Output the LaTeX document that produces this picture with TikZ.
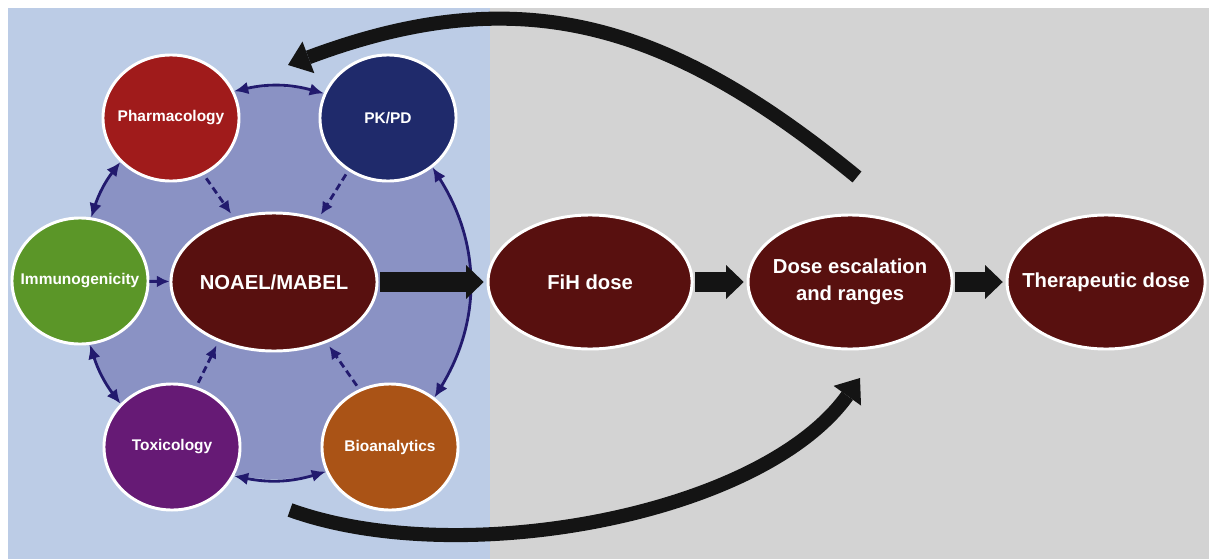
\documentclass[tikz,border=0pt]{standalone}
\usepackage{fontspec}
\setmainfont{Liberation Sans}
\usepackage{tikz}
\usetikzlibrary{shapes.geometric, arrows.meta, positioning}
\definecolor{bgblue}{RGB}{188,204,230}
\definecolor{bggray}{RGB}{211,211,211}
\definecolor{discblue}{RGB}{138,146,196}
\definecolor{linknavy}{RGB}{34,26,110}
\definecolor{pharmred}{RGB}{160,27,27}
\definecolor{pkpdblue}{RGB}{31,42,107}
\definecolor{immgreen}{RGB}{91,150,40}
\definecolor{toxpurple}{RGB}{102,26,117}
\definecolor{bioorange}{RGB}{170,83,22}
\definecolor{dosemaroon}{RGB}{88,16,15}
\tikzset{
  bubble/.style={
    ellipse, draw=white, line width=2.1pt,
    inner xsep=-0.8cm, inner ysep=0pt,
    minimum width=3.4cm, minimum height=3.15cm,
    text=white, font=\fontsize{11}{13}\selectfont\bfseries
  },
  dosestep/.style={
    ellipse, draw=white, fill=dosemaroon, line width=2.1pt,
    inner xsep=-1cm, inner ysep=0pt,
    minimum width=5.1cm, minimum height=3.35cm,
    text=white, align=center, font=\fontsize{14.4}{19.5}\selectfont\bfseries
  },
  link/.style={draw=linknavy, line width=2pt,
    {Latex[length=10pt,width=9pt]}-{Latex[length=10pt,width=9pt]}},
  feed/.style={draw=linknavy, line width=2pt, -{Latex[length=9pt,width=8.5pt]}},
  dashfeed/.style={feed, dash pattern=on 5pt off 3pt, shorten <=3pt, shorten >=3pt},
  blockarrow/.style={draw=black!92, line width=14pt,
    -{Triangle[length=12.5pt,width=24pt,line width=0pt]}, shorten <=1pt, shorten >=2pt},
  loopback/.style={draw=black!92, line width=10pt,
    -{Triangle[length=15.5pt,width=24pt,line width=0pt]}},
}

\begin{document}
\begin{tikzpicture}[x=0.025cm, y=-0.025cm]
  \useasboundingbox (0,0) rectangle (1209,559);
  \fill [bgblue]   (8,8)   rectangle (490,559);
  \fill [bggray]   (490,8) rectangle (1209,559);
  \fill [discblue] (275,283) circle [radius=4.9cm];

  \node (pharm)  [bubble, fill=pharmred]  at (171,118) {Pharmacology};
  \node (pkpd)   [bubble, fill=pkpdblue]  at (388,118) {PK/PD};
  \node (immuno) [bubble, fill=immgreen]  at (80,281)  {Immunogenicity};
  \node (tox)    [bubble, fill=toxpurple] at (172,447) {Toxicology};
  \node (bio)    [bubble, fill=bioorange] at (390,447) {Bioanalytics};
  \node (noael)  [dosestep, minimum width=5.15cm, minimum height=3.45cm] at (274,282) {NOAEL/MABEL};
  \node (fih)    [dosestep, right=2.7cm of noael]  {FiH dose};
  \node (dose)   [dosestep, right=1.325cm of fih]  {Dose escalation\\and ranges};
  \node (ther)   [dosestep, minimum width=4.95cm, right=1.3cm of dose] {Therapeutic dose};

  \coordinate (backfrom) at (857,177);
  \coordinate (backto)   at (288,65);
  \coordinate (skipfrom) at (290,510);
  \coordinate (skipto)   at (860,378);

  \draw [link] (immuno.80) to [bend left=10] (pharm.221);
  \draw [link] (pharm.23)  to [bend left=14] (pkpd.159);
  \draw [link] (pkpd.-48)  to [bend left=32] (bio.48);
  \draw [link] (bio.201)   to [bend left=14] (tox.-25);
  \draw [link] (tox.140)   to [bend left=10] (immuno.-81);

  \draw [dashfeed] (pharm.-60) -- (noael.122);
  \draw [dashfeed] (pkpd.233)  -- (noael.55);
  \draw [dashfeed] (tox.68)    -- (noael.227);
  \draw [dashfeed] (bio.118)   -- (noael.-49);
  \draw [feed]     (immuno)    -- (noael);

  \draw [blockarrow] (noael) -- (fih);
  \draw [blockarrow] (fih)   -- (dose);
  \draw [blockarrow] (dose)  -- (ther);

  \draw [loopback] (backfrom) .. controls (668,22) and (520,-22) .. (backto);
  \draw [loopback] (skipfrom) .. controls (459,571) and (761,516) .. (skipto);
\end{tikzpicture}
\end{document}
